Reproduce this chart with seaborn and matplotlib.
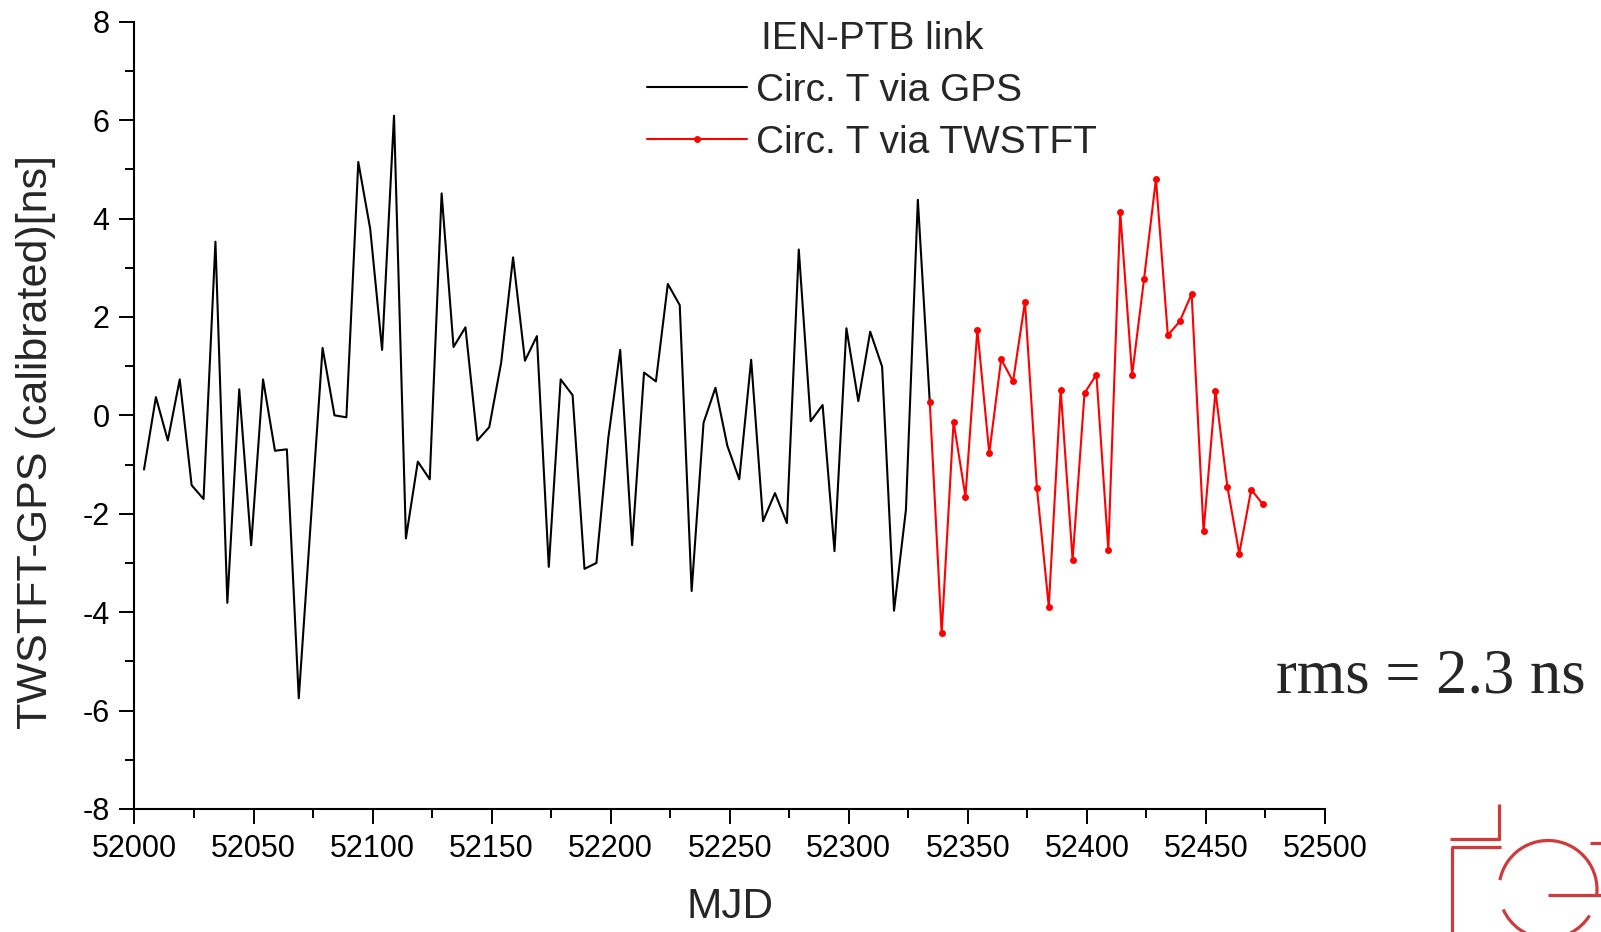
import numpy as np
import pandas as pd
import matplotlib
matplotlib.use("Agg")
import matplotlib.pyplot as plt
from matplotlib.ticker import MultipleLocator
from matplotlib.lines import Line2D
from matplotlib.patches import Arc
import seaborn as sns

# data
gps_mjd = [52004, 52009, 52014, 52019, 52024, 52029, 52034, 52039, 52044, 52049,
           52054, 52059, 52064, 52069, 52074, 52079, 52084, 52089, 52094, 52099,
           52104, 52109, 52114, 52119, 52124, 52129, 52134, 52139, 52144, 52149,
           52154, 52159, 52164, 52169, 52174, 52179, 52184, 52189, 52194, 52199,
           52204, 52209, 52214, 52219, 52224, 52229, 52234, 52239, 52244, 52249,
           52254, 52259, 52264, 52269, 52274, 52279, 52284, 52289, 52294, 52299,
           52304, 52309, 52314, 52319, 52324, 52329, 52334]
gps_ns = [-1.10, 0.37, -0.51, 0.73, -1.42, -1.70, 3.53, -3.81, 0.53, -2.64,
          0.73, -0.72, -0.69, -5.75, -2.19, 1.37, 0.00, -0.04, 5.15, 3.79,
          1.33, 6.09, -2.50, -0.94, -1.30, 4.51, 1.39, 1.79, -0.51, -0.24,
          1.07, 3.21, 1.11, 1.61, -3.08, 0.73, 0.41, -3.12, -3.00, -0.46,
          1.33, -2.64, 0.87, 0.69, 2.67, 2.24, -3.57, -0.15, 0.56, -0.62,
          -1.30, 1.13, -2.15, -1.58, -2.19, 3.37, -0.12, 0.21, -2.76, 1.77,
          0.29, 1.70, 0.99, -3.97, -1.92, 4.38, 0.28]

tw_mjd = [52334, 52339, 52344, 52349, 52354, 52359, 52364, 52369, 52374, 52379,
          52384, 52389, 52394, 52399, 52404, 52409, 52414, 52419, 52424, 52429,
          52434, 52439, 52444, 52449, 52454, 52459, 52464, 52469, 52474]
tw_ns = [0.28, -4.43, -0.13, -1.65, 1.74, -0.77, 1.14, 0.69, 2.31, -1.47,
         -3.89, 0.52, -2.94, 0.45, 0.83, -2.73, 4.13, 0.82, 2.77, 4.80,
         1.63, 1.91, 2.47, -2.36, 0.49, -1.45, -2.81, -1.51, -1.81]

labels = ["Circ. T via GPS", "Circ. T via TWSTFT"]

gps = pd.DataFrame({"MJD": gps_mjd, "ns": gps_ns})
tw = pd.DataFrame({"MJD": tw_mjd, "ns": tw_ns})

sns.set_style("ticks")
plt.rcParams['font.family'] = ['Liberation Sans', 'DejaVu Sans']
plt.rcParams['axes.unicode_minus'] = False

fig, ax = plt.subplots(figsize=(16.01, 9.32), dpi=100)
fig.subplots_adjust(left=0.0840, right=0.8276, bottom=0.1320, top=0.9767)

sns.lineplot(data=gps, x="MJD", y="ns", color="black", linewidth=1.5,
             estimator=None, sort=False, ax=ax)
sns.lineplot(data=tw, x="MJD", y="ns", color="red", linewidth=1.5,
             marker="o", markersize=5, markeredgewidth=0,
             estimator=None, sort=False, ax=ax)

ax.set_xlim(52000, 52500)
ax.set_ylim(-8, 8)
ax.set_xticks(np.arange(52000, 52501, 50))
ax.set_yticks(np.arange(-8, 9, 2))
ax.xaxis.set_minor_locator(MultipleLocator(25))
ax.yaxis.set_minor_locator(MultipleLocator(1))
ax.tick_params(which="major", direction="out", length=11, width=1.4,
               labelsize=22, pad=7, color="black", labelcolor="black")
ax.tick_params(which="minor", direction="out", length=6.5, width=1.4, color="black")
sns.despine(ax=ax)
for s in ["left", "bottom"]:
    ax.spines[s].set_linewidth(1.5)
    ax.spines[s].set_color("black")

ax.set_xlabel("MJD", fontsize=30.5)
ax.set_ylabel("TWSTFT-GPS (calibrated)[ns]", fontsize=31)
ax.xaxis.set_label_coords(0.5, -0.099)
ax.yaxis.set_label_coords(-0.066, 0.466)

handles = [Line2D([], [], color="black", lw=1.5),
           Line2D([], [], color="red", lw=1.5, marker="o", markersize=5,
                  markeredgewidth=0)]
fig.legend(handles, labels, title="IEN-PTB link", loc="upper center",
           bbox_to_anchor=(872 / 1601, 1 - 2 / 932), frameon=False,
           fontsize=28, title_fontsize=28, handlelength=2.57,
           handletextpad=0.25, labelspacing=0.4, borderpad=0)

fig.text(1276 / 1601, 1 - 692.7 / 932, "rms = 2.3 ns", fontsize=45,
         family=["Liberation Serif", "DejaVu Serif"], va="baseline", ha="left")

# IEN logo fragment, bottom right corner
logo = fig.add_axes([0, 0, 1, 1], facecolor="none")
logo.set_xlim(0, 1601)
logo.set_ylim(0, 932)
logo.axis("off")
red = "#cf3a3a"
H = 932
segs = [((1499.3, 804), (1499.3, 839.5)),
        ((1450, 839.3), (1500, 839.3)),
        ((1450.7, 846.7), (1501, 846.7)),
        ((1451.7, 846.7), (1451.7, 935)),
        ((1547.7, 895.3), (1603, 895.3)),
        ((1590, 842.7), (1603, 842.7))]
for (x0, y0), (x1, y1) in segs:
    logo.plot([x0, x1], [H - y0, H - y1], color=red, lw=2.3, solid_capstyle="butt")
cx, cy, r = 1548, H - 889.5, 49
logo.add_patch(Arc((cx, cy), 2 * r, 2 * r, theta1=-6, theta2=169, color=red, lw=2.3))
logo.add_patch(Arc((cx, cy), 2 * r, 2 * r, theta1=204, theta2=328, color=red, lw=2.3))

fig.savefig("out.png", dpi=100)
